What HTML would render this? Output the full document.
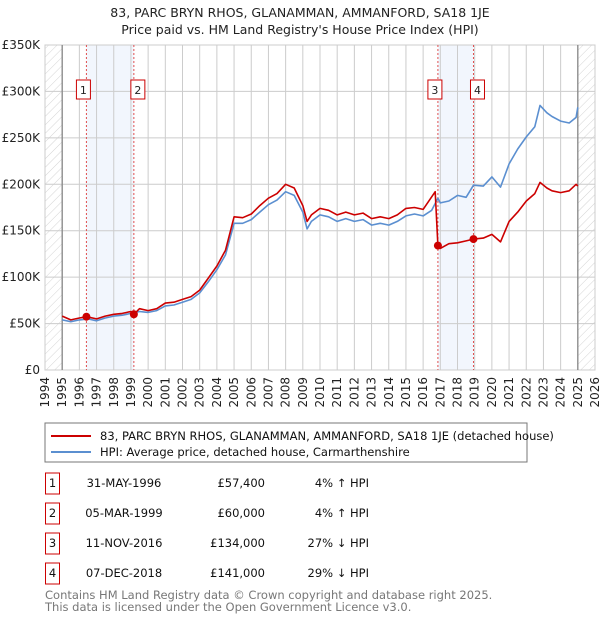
<!DOCTYPE html>
<html><head><meta charset="utf-8"><style>
body{margin:0;background:#fff;font-family:"DejaVu Sans","Liberation Sans",sans-serif;}
svg{display:block}
</style></head><body>
<svg width="600" height="620" id="c" font-family="DejaVu Sans, Liberation Sans, sans-serif">
<defs><pattern id="h" width="6" height="6" patternUnits="userSpaceOnUse" patternTransform="rotate(45)"><line x1="0" y1="0" x2="0" y2="6" stroke="#d4d4d4" stroke-width="1"/></pattern></defs>
<text x="300" y="17" text-anchor="middle" font-size="12.5" fill="#222">83, PARC BRYN RHOS, GLANAMMAN, AMMANFORD, SA18 1JE</text>
<text x="300" y="34" text-anchor="middle" font-size="12.5" fill="#222">Price paid vs. HM Land Registry's House Price Index (HPI)</text>
<g id="plot"></g>
<rect x="45" y="423" width="482" height="39" fill="#fff" stroke="#777"/>
<line x1="51" y1="436" x2="91" y2="436" stroke="#cc0000" stroke-width="2"/>
<text x="100" y="440" font-size="11.5" fill="#111">83, PARC BRYN RHOS, GLANAMMAN, AMMANFORD, SA18 1JE (detached house)</text>
<line x1="51" y1="452" x2="91" y2="452" stroke="#5b8fd0" stroke-width="2"/>
<text x="100" y="456" font-size="11.5" fill="#111">HPI: Average price, detached house, Carmarthenshire</text>
<g id="tbl" font-size="11.5" fill="#111"></g>
<text x="45" y="599" font-size="11.5" fill="#777">Contains HM Land Registry data © Crown copyright and database right 2025.</text>
<text x="45" y="611" font-size="11.5" fill="#777">This data is licensed under the Open Government Licence v3.0.</text>
</svg>
<script>
const hpiYears=[1995,1995.5,1996,1996.5,1997,1997.5,1998,1998.5,1999,1999.5,2000,2000.5,2001,2001.5,2002,2002.5,2003,2003.5,2004,2004.5,2005,2005.5,2006,2006.5,2007,2007.5,2008,2008.5,2009,2009.25,2009.5,2010,2010.5,2011,2011.5,2012,2012.5,2013,2013.5,2014,2014.5,2015,2015.5,2016,2016.5,2016.86,2017,2017.5,2018,2018.5,2018.93,2019.5,2020,2020.5,2021,2021.5,2022,2022.5,2022.8,2023.2,2023.5,2024,2024.5,2024.9,2025];
const hpiValues=[54,52,54,55,53,56,58,59,61,63,62,64,69,70,73,76,83,95,108,124,158,158,162,170,178,183,192,188,170,152,160,167,165,160,163,160,162,156,158,156,160,166,168,166,172,185,180,182,188,186,199,198,208,197,222,238,251,262,285,277,273,268,266,272,283];
const ppYears=[1995,1995.5,1996,1996.41,1997,1997.5,1998,1998.5,1999,1999.17,1999.5,2000,2000.5,2001,2001.5,2002,2002.5,2003,2003.5,2004,2004.5,2005,2005.5,2006,2006.5,2007,2007.5,2008,2008.5,2009,2009.25,2009.5,2010,2010.5,2011,2011.5,2012,2012.5,2013,2013.5,2014,2014.5,2015,2015.5,2016,2016.7,2016.86,2017,2017.5,2018,2018.5,2018.93,2019.5,2020,2020.5,2021,2021.5,2022,2022.5,2022.8,2023.2,2023.5,2024,2024.5,2024.9,2025];
const ppValues=[58,54,56,57.4,55,58,60,61,63,60,66,64,66,72,73,76,79,86,99,112,129,165,164,168,177,185,190,200,196,177,160,167,174,172,167,170,167,169,163,165,163,167,174,175,173,192,134,131,136,137,139,141,142,146,138,160,170,182,190,202,196,193,191,193,200,198];
const saleLabels=['1','2','3','4'];
const saleYears=[1996.41,1999.17,2016.86,2018.93];
const salePrices=[57.4,60,134,141];
const saleDates=['31-MAY-1996','05-MAR-1999','11-NOV-2016','07-DEC-2018'];
const salePriceText=['£57,400','£60,000','£134,000','£141,000'];
const saleHpiText=['4% ↑ HPI','4% ↑ HPI','27% ↓ HPI','29% ↓ HPI'];
const yTicks=[0,50,100,150,200,250,300,350];
const yTickLabels=['£0','£50K','£100K','£150K','£200K','£250K','£300K','£350K'];
const xTicks=[1994,1995,1996,1997,1998,1999,2000,2001,2002,2003,2004,2005,2006,2007,2008,2009,2010,2011,2012,2013,2014,2015,2016,2017,2018,2019,2020,2021,2022,2023,2024,2025,2026];

const NS='http://www.w3.org/2000/svg';
const L=45,R=595,T=45,B=370,X0=1994,X1=2026,YM=350;
const xs=v=>L+(v-X0)/(X1-X0)*(R-L);
const ys=v=>B-v/YM*(B-T);
const g=document.getElementById('plot');
function mk(tag,attrs,parent){const e=document.createElementNS(NS,tag);for(const k in attrs)e.setAttribute(k,attrs[k]);(parent||g).appendChild(e);return e;}
let e;
e=mk('rect',{x:L,y:T,width:R-L,height:B-T,fill:'#fff'});


e=mk('rect',{x:L,y:T,width:xs(1995)-L,height:B-T,fill:'url(#h)'});


e=mk('rect',{x:xs(2025),y:T,width:R-xs(2025),height:B-T,fill:'url(#h)'});


for(let i=0;i<saleYears.length;i+=2){
 e=mk('rect',{x:xs(saleYears[i]),y:T,width:xs(saleYears[i+1])-xs(saleYears[i]),height:B-T,fill:'#f2f6fd'});
 
 
}
xTicks.forEach(t=>{
 e=mk('line',{x1:xs(t),x2:xs(t),y1:T,y2:B,stroke:'#ccc','stroke-width':1});
 
 
 e=mk('text',{x:0,y:0,transform:`translate(${xs(t)+4},${B+7}) rotate(-90)`,'text-anchor':'end','font-size':12,fill:'#222'});
 e.textContent=t;
 
 
});
yTicks.forEach((t,i)=>{
 e=mk('line',{x1:L,x2:R,y1:ys(t),y2:ys(t),stroke:'#ccc','stroke-width':1});
 
 
 e=mk('text',{x:L-5,y:ys(t)+4,'text-anchor':'end','font-size':12,fill:'#222'});
 e.textContent=yTickLabels[i];
 
 
});
e=mk('rect',{x:L,y:T,width:R-L,height:B-T,fill:'none',stroke:'#ccc'});


[1995,2025].forEach(t=>{
 e=mk('line',{x1:xs(t),x2:xs(t),y1:T,y2:B,stroke:'#888','stroke-width':1.3});
 
 
});
saleYears.forEach((s,i)=>{
 e=mk('line',{x1:xs(s),x2:xs(s),y1:T,y2:B,stroke:'#e05050','stroke-width':1,'stroke-dasharray':'2,2'});
 
 
 e=mk('rect',{x:xs(s)-(i%2===0?10:3),y:80,width:14,height:19,fill:'#fff',stroke:'#cc0000'});
 
 
 e=mk('text',{x:xs(s)-(i%2===0?3:-4),y:94,'text-anchor':'middle','font-size':11,fill:'#222'});
 e.textContent=saleLabels[i];
 
 
});
const pts=(xa,va)=>xa.map((x,i)=>xs(x).toFixed(1)+','+ys(va[i]).toFixed(1)).join(' ');
e=mk('polyline',{points:pts(hpiYears,hpiValues),fill:'none',stroke:'#5b8fd0','stroke-width':1.6,'stroke-linejoin':'round'});


e=mk('polyline',{points:pts(ppYears,ppValues),fill:'none',stroke:'#cc0000','stroke-width':1.6,'stroke-linejoin':'round'});


saleYears.forEach((s,i)=>{
 e=mk('circle',{cx:xs(s),cy:ys(salePrices[i]),r:4,fill:'#cc0000'});
 
 
});
const tb=document.getElementById('tbl');
saleLabels.forEach((lb,i)=>{
 const cy=483+i*30;
 e=mk('rect',{x:45.5,y:cy-10,width:14,height:21,fill:'#fff',stroke:'#cc0000'},tb);
 
 
 e=mk('text',{x:52.5,y:cy+4,'text-anchor':'middle'},tb);e.textContent=lb;
 
 
 e=mk('text',{x:124,y:cy+4,'text-anchor':'middle'},tb);e.textContent=saleDates[i];
 
 
 e=mk('text',{x:265,y:cy+4,'text-anchor':'end'},tb);e.textContent=salePriceText[i];
 
 
 e=mk('text',{x:369,y:cy+4,'text-anchor':'end'},tb);e.textContent=saleHpiText[i];
 
 
});
</script>
</body></html>
